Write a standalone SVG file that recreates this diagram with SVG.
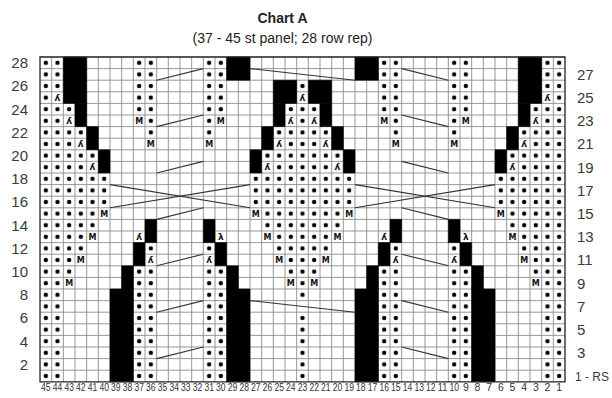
<svg xmlns="http://www.w3.org/2000/svg" width="612" height="398" viewBox="0 0 612 398">
<style>
.gl{fill:none;stroke:#8c8c8c;stroke-width:0.9;vector-effect:non-scaling-stroke}
.bd{fill:none;stroke:#222;stroke-width:1.3;vector-effect:non-scaling-stroke}
.bk rect{fill:#000;stroke:#000;stroke-width:0.6;vector-effect:non-scaling-stroke}
.cb line{stroke:#333;stroke-width:1.1;vector-effect:non-scaling-stroke}
.ti{font-family:"Liberation Sans",Arial,sans-serif;font-size:14px;font-weight:bold;fill:#222;text-anchor:middle}
.st{font-family:"Liberation Sans",Arial,sans-serif;font-size:14px;fill:#222;text-anchor:middle}
.rl{font-family:"Liberation Sans",Arial,sans-serif;font-size:15px;fill:#3a3a3a}
.rl.l{text-anchor:end}
.rs{font-family:"Liberation Sans",Arial,sans-serif;font-size:12px;fill:#3a3a3a}
.cn{font-family:"Liberation Sans",Arial,sans-serif;font-size:10.5px;fill:#333;text-anchor:middle}
.m{font-family:"DejaVu Sans",sans-serif;font-size:8px;font-weight:bold;text-anchor:middle;fill:#111}
.k{font-family:"DejaVu Sans",sans-serif;font-size:9px;font-weight:bold;text-anchor:middle;fill:#111}
</style>
<rect width="612" height="398" fill="#fff"/>
<g id="title">
<text class="ti" x="282.5" y="22.5">Chart A</text>
<text class="st" x="282.5" y="42.5">(37 - 45 st panel; 28 row rep)</text>
</g>
<g id="chart" transform="translate(40 57) scale(11.6667 11.6)">
<defs>
<pattern id="dp" patternUnits="userSpaceOnUse" x="0" y="0" width="1" height="1">
<circle cx="0.5" cy="0.5" r="0.19" fill="#000"/>
</pattern>
</defs>
<g id="dots" fill="url(#dp)">
<rect x="0" y="0" width="1" height="28"/>
<rect x="1" y="0" width="1" height="3"/><rect x="1" y="4" width="1" height="24"/>
<rect x="2" y="4" width="1" height="1"/><rect x="2" y="6" width="1" height="13"/>
<rect x="3" y="6" width="1" height="1"/><rect x="3" y="8" width="1" height="9"/>
<rect x="4" y="8" width="1" height="1"/><rect x="4" y="10" width="1" height="5"/>
<rect x="5" y="10" width="1" height="3"/>
<rect x="8" y="0" width="1" height="5"/><rect x="8" y="18" width="1" height="10"/>
<rect x="9" y="0" width="1" height="7"/><rect x="9" y="16" width="1" height="1"/><rect x="9" y="18" width="1" height="10"/>
<rect x="14" y="0" width="1" height="7"/><rect x="14" y="16" width="1" height="1"/><rect x="14" y="18" width="1" height="10"/>
<rect x="15" y="0" width="1" height="5"/><rect x="15" y="18" width="1" height="10"/>
<rect x="18" y="10" width="1" height="3"/>
<rect x="19" y="8" width="1" height="1"/><rect x="19" y="10" width="1" height="5"/>
<rect x="20" y="6" width="1" height="1"/><rect x="20" y="8" width="1" height="9"/>
<rect x="21" y="4" width="1" height="1"/><rect x="21" y="6" width="1" height="13"/>
<rect x="22" y="2" width="1" height="1"/><rect x="22" y="4" width="1" height="17"/><rect x="22" y="22" width="1" height="6"/>
<rect x="23" y="4" width="1" height="1"/><rect x="23" y="6" width="1" height="13"/>
<rect x="24" y="6" width="1" height="1"/><rect x="24" y="8" width="1" height="9"/>
<rect x="25" y="8" width="1" height="1"/><rect x="25" y="10" width="1" height="5"/>
<rect x="26" y="10" width="1" height="3"/>
<rect x="29" y="0" width="1" height="5"/><rect x="29" y="18" width="1" height="10"/>
<rect x="30" y="0" width="1" height="7"/><rect x="30" y="16" width="1" height="1"/><rect x="30" y="18" width="1" height="10"/>
<rect x="35" y="0" width="1" height="7"/><rect x="35" y="16" width="1" height="1"/><rect x="35" y="18" width="1" height="10"/>
<rect x="36" y="0" width="1" height="5"/><rect x="36" y="18" width="1" height="10"/>
<rect x="39" y="10" width="1" height="3"/>
<rect x="40" y="8" width="1" height="1"/><rect x="40" y="10" width="1" height="5"/>
<rect x="41" y="6" width="1" height="1"/><rect x="41" y="8" width="1" height="9"/>
<rect x="42" y="4" width="1" height="1"/><rect x="42" y="6" width="1" height="13"/>
<rect x="43" y="0" width="1" height="3"/><rect x="43" y="4" width="1" height="24"/>
<rect x="44" y="0" width="1" height="28"/>
</g>
<path class="gl" d="M1 0V28M2 0V28M3 0V28M4 0V28M5 0V28M6 0V28M7 0V28M8 0V28M9 0V28M10 0V28M11 0V28M12 0V28M13 0V28M14 0V28M15 0V28M16 0V28M17 0V28M18 0V28M19 0V28M20 0V28M21 0V28M22 0V28M23 0V28M24 0V28M25 0V28M26 0V28M27 0V28M28 0V28M29 0V28M30 0V28M31 0V28M32 0V28M33 0V28M34 0V28M35 0V28M36 0V28M37 0V28M38 0V28M39 0V28M40 0V28M41 0V28M42 0V28M43 0V28M44 0V28M0 1H45M0 2H45M0 3H45M0 4H45M0 5H45M0 6H45M0 7H45M0 8H45M0 9H45M0 10H45M0 11H45M0 12H45M0 13H45M0 14H45M0 15H45M0 16H45M0 17H45M0 18H45M0 19H45M0 20H45M0 21H45M0 22H45M0 23H45M0 24H45M0 25H45M0 26H45M0 27H45"/>
<g id="nostitch" class="bk">
<rect x="2" y="0" width="2" height="4"/><rect x="3" y="4" width="1" height="2"/><rect x="4" y="6" width="1" height="2"/><rect x="5" y="8" width="1" height="2"/>
<rect x="16" y="0" width="2" height="2"/><rect x="27" y="0" width="2" height="2"/>
<rect x="20" y="2" width="2" height="2"/><rect x="20" y="4" width="1" height="2"/><rect x="23" y="2" width="2" height="2"/><rect x="24" y="4" width="1" height="2"/>
<rect x="19" y="6" width="1" height="2"/><rect x="25" y="6" width="1" height="2"/><rect x="18" y="8" width="1" height="2"/><rect x="26" y="8" width="1" height="2"/>
<rect x="41" y="0" width="2" height="4"/><rect x="41" y="4" width="1" height="2"/><rect x="40" y="6" width="1" height="2"/><rect x="39" y="8" width="1" height="2"/>
<rect x="9" y="14" width="1" height="2"/><rect x="14" y="14" width="1" height="2"/><rect x="30" y="14" width="1" height="2"/><rect x="35" y="14" width="1" height="2"/>
<rect x="8" y="16" width="1" height="2"/><rect x="15" y="16" width="1" height="2"/><rect x="29" y="16" width="1" height="2"/><rect x="36" y="16" width="1" height="2"/>
<rect x="7" y="18" width="1" height="2"/><rect x="6" y="20" width="2" height="8"/>
<rect x="16" y="18" width="1" height="2"/><rect x="16" y="20" width="2" height="8"/>
<rect x="28" y="18" width="1" height="2"/><rect x="27" y="20" width="2" height="8"/>
<rect x="37" y="18" width="1" height="2"/><rect x="37" y="20" width="2" height="8"/>
</g>
<rect class="bd" x="0" y="0" width="45" height="28"/>
<g id="connectors" class="cb">
<line x1="10" y1="2" x2="14" y2="1"/><line x1="10" y1="6" x2="14" y2="5"/><line x1="10" y1="10" x2="14" y2="9"/><line x1="10" y1="14" x2="14" y2="13"/><line x1="10" y1="18" x2="14" y2="17"/><line x1="10" y1="22" x2="14" y2="21"/><line x1="10" y1="26" x2="14" y2="25"/>
<line x1="31" y1="1" x2="35" y2="2"/><line x1="31" y1="5" x2="35" y2="6"/><line x1="31" y1="9" x2="35" y2="10"/><line x1="31" y1="13" x2="35" y2="14"/><line x1="31" y1="17" x2="35" y2="18"/><line x1="31" y1="21" x2="35" y2="22"/><line x1="31" y1="25" x2="35" y2="26"/>
<line x1="18" y1="1" x2="27" y2="2"/><line x1="18" y1="21" x2="27" y2="22"/>
<line x1="6" y1="11" x2="18" y2="13"/><line x1="6" y1="13" x2="18" y2="11"/>
<line x1="27" y1="11" x2="39" y2="13"/><line x1="27" y1="13" x2="39" y2="11"/>
</g>
</g>
<g id="symbols">
<text class="m" x="139.2" y="123.7">M</text><text class="m" x="220.8" y="123.7">M</text><text class="m" x="384.2" y="123.7">M</text><text class="m" x="465.8" y="123.7">M</text>
<text class="m" x="150.8" y="146.9">M</text><text class="m" x="209.2" y="146.9">M</text><text class="m" x="395.8" y="146.9">M</text><text class="m" x="454.2" y="146.9">M</text>
<text class="m" x="104.2" y="216.5">M</text><text class="m" x="255.8" y="216.5">M</text><text class="m" x="349.2" y="216.5">M</text><text class="m" x="500.8" y="216.5">M</text>
<text class="m" x="92.5" y="239.7">M</text><text class="m" x="267.5" y="239.7">M</text><text class="m" x="337.5" y="239.7">M</text><text class="m" x="512.5" y="239.7">M</text>
<text class="m" x="80.8" y="262.9">M</text><text class="m" x="279.2" y="262.9">M</text><text class="m" x="325.8" y="262.9">M</text><text class="m" x="524.2" y="262.9">M</text>
<text class="m" x="69.2" y="286.1">M</text><text class="m" x="290.8" y="286.1">M</text><text class="m" x="314.2" y="286.1">M</text><text class="m" x="535.8" y="286.1">M</text>
<text class="k" x="57.5" y="100.8">ʎ</text><text class="k" x="302.5" y="100.8">ʎ</text><text class="k" x="547.5" y="100.8">ʎ</text>
<text class="k" x="69.2" y="124">ʎ</text><text class="k" x="290.8" y="124">ʎ</text><text class="k" x="314.2" y="124">ʎ</text><text class="k" x="535.8" y="124">ʎ</text>
<text class="k" x="80.8" y="147.2">ʎ</text><text class="k" x="279.2" y="147.2">ʎ</text><text class="k" x="325.8" y="147.2">ʎ</text><text class="k" x="524.2" y="147.2">ʎ</text>
<text class="k" x="92.5" y="170.4">ʎ</text><text class="k" x="267.5" y="170.4">ʎ</text><text class="k" x="337.5" y="170.4">ʎ</text><text class="k" x="512.5" y="170.4">ʎ</text>
<text class="k" x="139.2" y="240">ʎ</text><text class="k" x="384.2" y="240">ʎ</text>
<text class="k" x="220.8" y="240">λ</text><text class="k" x="465.8" y="240">λ</text>
<text class="k" x="150.8" y="263.2">ʎ</text><text class="k" x="209.2" y="263.2">ʎ</text><text class="k" x="395.8" y="263.2">ʎ</text><text class="k" x="454.2" y="263.2">ʎ</text>
</g>
<g id="row-labels">
<text class="rl l" x="28" y="68.2">28</text><text class="rl l" x="28" y="91.4">26</text><text class="rl l" x="28" y="114.6">24</text><text class="rl l" x="28" y="137.8">22</text><text class="rl l" x="28" y="161">20</text><text class="rl l" x="28" y="184.2">18</text><text class="rl l" x="28" y="207.4">16</text><text class="rl l" x="28" y="230.6">14</text><text class="rl l" x="28" y="253.8">12</text><text class="rl l" x="28" y="277">10</text><text class="rl l" x="28" y="300.2">8</text><text class="rl l" x="28" y="323.4">6</text><text class="rl l" x="28" y="346.6">4</text><text class="rl l" x="28" y="369.8">2</text>
<text class="rl" x="577" y="79.8">27</text><text class="rl" x="577" y="103">25</text><text class="rl" x="577" y="126.2">23</text><text class="rl" x="577" y="149.4">21</text><text class="rl" x="577" y="172.6">19</text><text class="rl" x="577" y="195.8">17</text><text class="rl" x="577" y="219">15</text><text class="rl" x="577" y="242.2">13</text><text class="rl" x="577" y="265.4">11</text><text class="rl" x="577" y="288.6">9</text><text class="rl" x="577" y="311.8">7</text><text class="rl" x="577" y="335">5</text><text class="rl" x="577" y="358.2">3</text><text class="rs" x="575" y="380.5">1 - RS</text>
</g>
<g id="col-labels">
<text class="cn" x="45.8" y="390.5" textLength="9.5" lengthAdjust="spacingAndGlyphs">45</text><text class="cn" x="57.5" y="390.5" textLength="9.5" lengthAdjust="spacingAndGlyphs">44</text><text class="cn" x="69.2" y="390.5" textLength="9.5" lengthAdjust="spacingAndGlyphs">43</text><text class="cn" x="80.8" y="390.5" textLength="9.5" lengthAdjust="spacingAndGlyphs">42</text><text class="cn" x="92.5" y="390.5" textLength="9.5" lengthAdjust="spacingAndGlyphs">41</text><text class="cn" x="104.2" y="390.5" textLength="9.5" lengthAdjust="spacingAndGlyphs">40</text><text class="cn" x="115.8" y="390.5" textLength="9.5" lengthAdjust="spacingAndGlyphs">39</text><text class="cn" x="127.5" y="390.5" textLength="9.5" lengthAdjust="spacingAndGlyphs">38</text><text class="cn" x="139.2" y="390.5" textLength="9.5" lengthAdjust="spacingAndGlyphs">37</text><text class="cn" x="150.8" y="390.5" textLength="9.5" lengthAdjust="spacingAndGlyphs">36</text><text class="cn" x="162.5" y="390.5" textLength="9.5" lengthAdjust="spacingAndGlyphs">35</text><text class="cn" x="174.2" y="390.5" textLength="9.5" lengthAdjust="spacingAndGlyphs">34</text><text class="cn" x="185.8" y="390.5" textLength="9.5" lengthAdjust="spacingAndGlyphs">33</text><text class="cn" x="197.5" y="390.5" textLength="9.5" lengthAdjust="spacingAndGlyphs">32</text><text class="cn" x="209.2" y="390.5" textLength="9.5" lengthAdjust="spacingAndGlyphs">31</text><text class="cn" x="220.8" y="390.5" textLength="9.5" lengthAdjust="spacingAndGlyphs">30</text><text class="cn" x="232.5" y="390.5" textLength="9.5" lengthAdjust="spacingAndGlyphs">29</text><text class="cn" x="244.2" y="390.5" textLength="9.5" lengthAdjust="spacingAndGlyphs">28</text><text class="cn" x="255.8" y="390.5" textLength="9.5" lengthAdjust="spacingAndGlyphs">27</text><text class="cn" x="267.5" y="390.5" textLength="9.5" lengthAdjust="spacingAndGlyphs">26</text><text class="cn" x="279.2" y="390.5" textLength="9.5" lengthAdjust="spacingAndGlyphs">25</text><text class="cn" x="290.8" y="390.5" textLength="9.5" lengthAdjust="spacingAndGlyphs">24</text><text class="cn" x="302.5" y="390.5" textLength="9.5" lengthAdjust="spacingAndGlyphs">23</text><text class="cn" x="314.2" y="390.5" textLength="9.5" lengthAdjust="spacingAndGlyphs">22</text><text class="cn" x="325.8" y="390.5" textLength="9.5" lengthAdjust="spacingAndGlyphs">21</text><text class="cn" x="337.5" y="390.5" textLength="9.5" lengthAdjust="spacingAndGlyphs">20</text><text class="cn" x="349.2" y="390.5" textLength="9.5" lengthAdjust="spacingAndGlyphs">19</text><text class="cn" x="360.8" y="390.5" textLength="9.5" lengthAdjust="spacingAndGlyphs">18</text><text class="cn" x="372.5" y="390.5" textLength="9.5" lengthAdjust="spacingAndGlyphs">17</text><text class="cn" x="384.2" y="390.5" textLength="9.5" lengthAdjust="spacingAndGlyphs">16</text><text class="cn" x="395.8" y="390.5" textLength="9.5" lengthAdjust="spacingAndGlyphs">15</text><text class="cn" x="407.5" y="390.5" textLength="9.5" lengthAdjust="spacingAndGlyphs">14</text><text class="cn" x="419.2" y="390.5" textLength="9.5" lengthAdjust="spacingAndGlyphs">13</text><text class="cn" x="430.8" y="390.5" textLength="9.5" lengthAdjust="spacingAndGlyphs">12</text><text class="cn" x="442.5" y="390.5" textLength="9.5" lengthAdjust="spacingAndGlyphs">11</text><text class="cn" x="454.2" y="390.5" textLength="9.5" lengthAdjust="spacingAndGlyphs">10</text><text class="cn" x="465.8" y="390.5">9</text><text class="cn" x="477.5" y="390.5">8</text><text class="cn" x="489.2" y="390.5">7</text><text class="cn" x="500.8" y="390.5">6</text><text class="cn" x="512.5" y="390.5">5</text><text class="cn" x="524.2" y="390.5">4</text><text class="cn" x="535.8" y="390.5">3</text><text class="cn" x="547.5" y="390.5">2</text><text class="cn" x="559.2" y="390.5">1</text>
</g>
</svg>
